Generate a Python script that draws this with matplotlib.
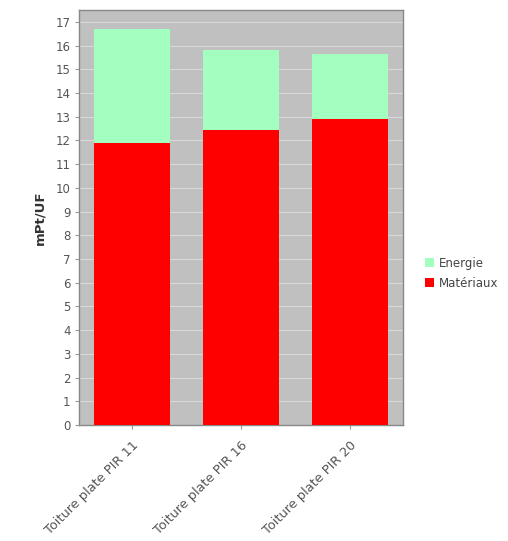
import matplotlib
matplotlib.use("Agg")
import matplotlib.pyplot as plt
from matplotlib.patches import Patch

categories = ["Toiture plate PIR 11", "Toiture plate PIR 16", "Toiture plate PIR 20"]
materiaux = [11.88, 12.43, 12.90]
energie = [4.82, 3.38, 2.73]
yticks = list(range(0, 18))

C_MAT = "#ff0000"
C_ENE = "#a3ffbf"
TXT = "#555555"

fig = plt.figure(figsize=(5.08, 5.41), dpi=100)
ax = fig.add_axes([0.1555, 0.2144, 0.6378, 0.7671])
ax.set_facecolor("#c0c0c0")

x = list(range(len(categories)))
ax.bar(x, materiaux, width=0.70, color=C_MAT, zorder=3)
ax.bar(x, energie, width=0.70, bottom=materiaux, color=C_ENE, zorder=3)

ax.set_xlim(-0.49, 2.49)
ax.set_ylim(0, 17.5)
ax.set_yticks(yticks)
ax.set_yticklabels([str(t) for t in yticks], fontsize=8.5, color=TXT)
ax.set_xticks(x)
ax.set_xticklabels(categories, rotation=45, ha="right", rotation_mode="anchor",
                   fontsize=9.3, color=TXT)
ax.yaxis.grid(True, color="#d8d8d8", linewidth=0.8, zorder=0)
ax.set_axisbelow(True)
ax.tick_params(axis="both", length=3, color="#999999", pad=3)
ax.tick_params(axis="x", pad=7)

for s in ax.spines.values():
    s.set_color("#888888")
    s.set_linewidth(1.0)

ax.set_ylabel("mPt/UF", fontsize=9.5, fontweight="bold", color="#333333", labelpad=7)

handles = [Patch(facecolor=C_ENE, label="Energie"), Patch(facecolor=C_MAT, label="Matériaux")]
fig.legend(handles=handles, loc="center left", bbox_to_anchor=(0.815, 0.495),
           frameon=False, fontsize=8.5, handlelength=0.8, handleheight=0.8,
           handletextpad=0.4, labelspacing=0.6, labelcolor="#444444")

fig.savefig("out.png", dpi=100, facecolor="white")
